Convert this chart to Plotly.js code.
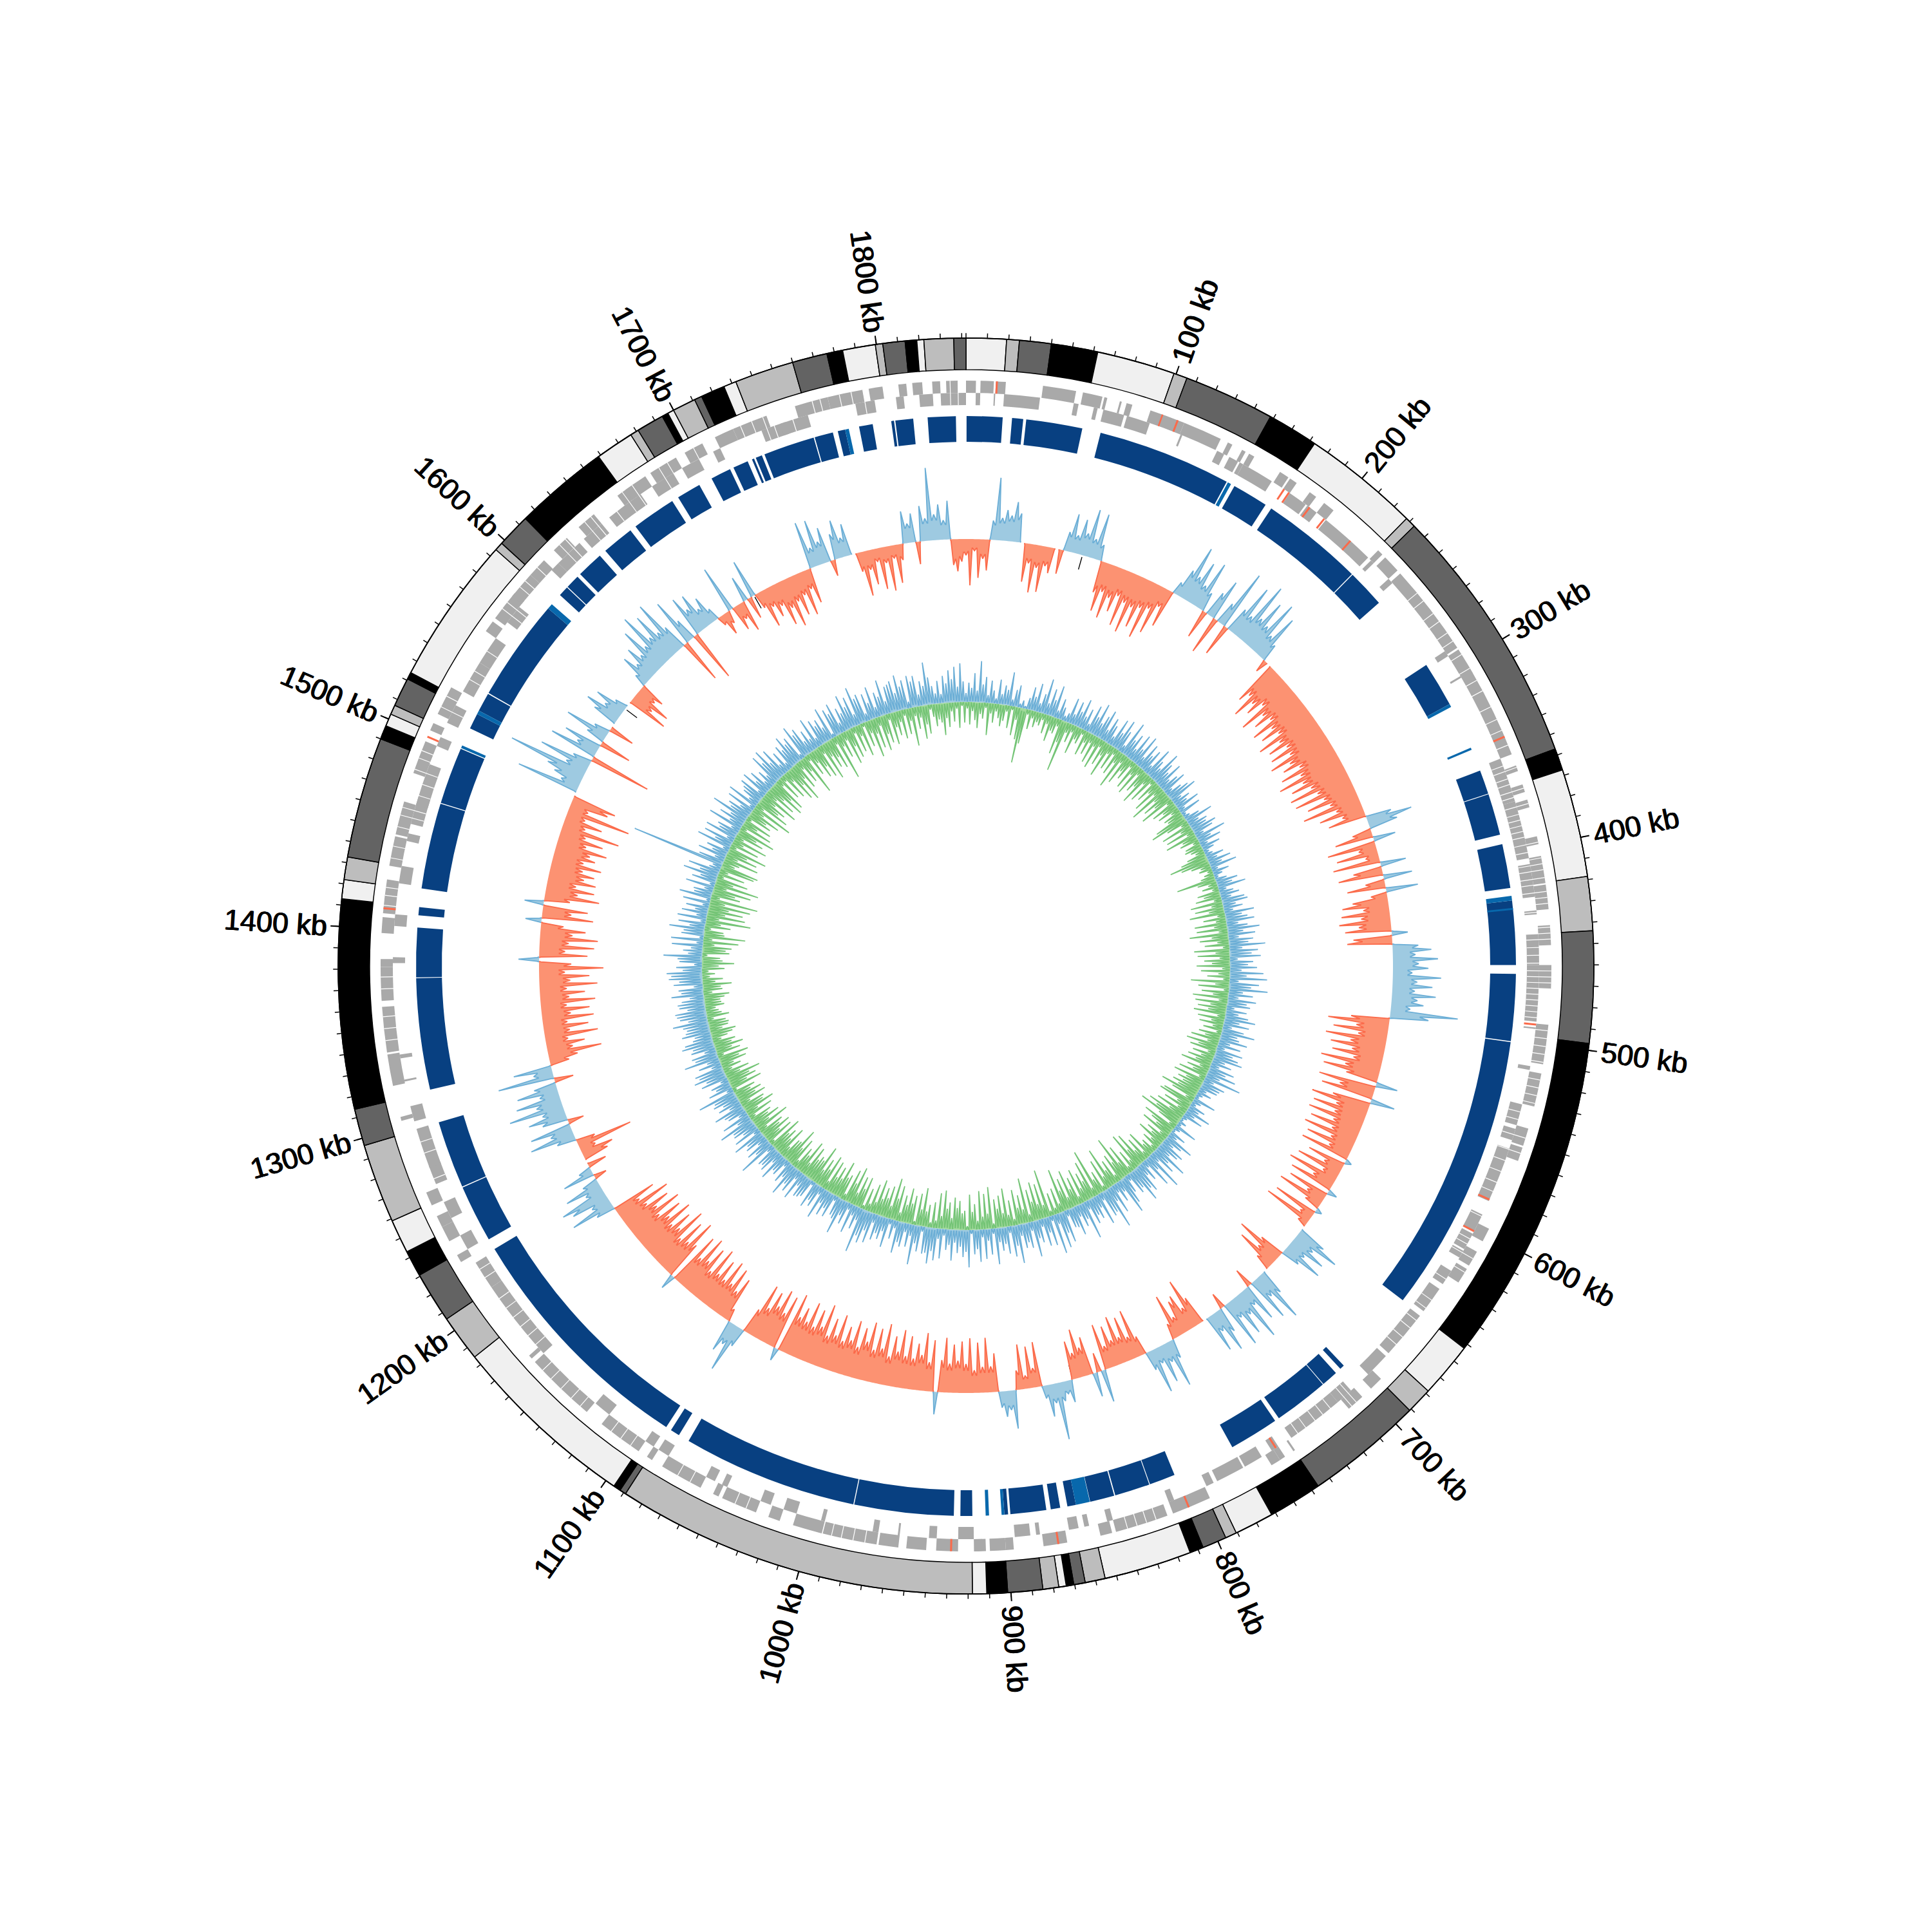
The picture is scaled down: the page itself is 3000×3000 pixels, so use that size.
<!DOCTYPE html>
<html><head><meta charset="utf-8">
<script src="https://cdn.plot.ly/plotly-3.0.1.min.js"></script>
<style>html,body{margin:0;padding:0;background:#fff}</style></head>
<body><div id="chart" style="width:3000px;height:3000px"></div>
<script>
// genome length in kb and tick marks
const genomeKb = 1842;
const majorTicksKb = [100,200,300,400,500,600,700,800,900,1000,1100,1200,1300,1400,1500,1600,1700,1800];
const minorTicksKb = [];
for (let k = 0; k < genomeKb; k += 10) minorTicksKb.push(k);

// outer contig ring: contig end positions (kb) and shade
const contigEnds = [19,25,40,62,99,105.4,148.4,172.5,228,233,357,367.4,418.5,444,496.8,652.4,678.5,691,746.5,772,790.6,796,807.5,814,855.5,865,870.4,874,877.5,885,901.5,911.3,918,1089,1092,1095.5,1184.5,1206.5,1230.6,1243,1259,1296.5,1314,1413,1422,1432.7,1490,1496.6,1502.5,1507,1520.7,1524,1594,1598,1614,1658.8,1677,1681,1694,1697,1700,1711,1714.6,1726,1732,1760,1776.5,1784,1799.5,1803,1813.5,1819,1822.3,1836.3,1842];
const contigShade = ["l","m","d","k","l","m","d","k","l","m","d","k","l","m","d","k","l","m","d","k","l","m","d","k","l","m","d","k","l","m","d","k","l","m","d","k","l","m","d","k","l","m","d","k","l","m","d","k","l","m","d","k","l","m","d","k","l","m","d","k","l","m","d","k","l","m","d","k","l","m","d","k","l","m","d"];

// gene ring: forward (outer row) and reverse (inner row) blocks, [start,end] in kb
const geneForward = [[0,5],[7.3,14],[15,20],[38.7,55.5],[59,69],[70,71.5],[78,79],[81.5,84.5],[94,112],[112,132],[136,138.5],[144,146],[148,151],[166,171],[172,176],[184,188],[193,199],[229,232],[234,243],[245,292],[293,352],[358,361],[368,372],[376,380],[395,399],[405,419],[419.6,432],[440,450],[460,472],[490,510],[514.7,531.6],[543,552],[553,560],[597,604],[610,618],[620,628],[690,697],[703,712],[746,747],[752,755],[755,760],[795,815],[818,845],[847,853],[870,882],[897,901],[901,909],[911,917],[925,936],[941,951],[955,965],[966,993.5],[994,1009],[1016,1022],[1028.6,1047],[1049,1052],[1059,1081],[1087,1090],[1095,1118],[1127.6,1163.7],[1166,1168],[1226,1230],[1238,1246],[1246,1252],[1258,1265],[1303,1305],[1321,1337],[1338,1361],[1364,1381],[1381,1385],[1398,1406],[1408,1425],[1432,1447],[1448,1465],[1480,1497],[1503,1507],[1512,1527],[1560,1566],[1568,1584],[1582,1596],[1596,1606],[1613,1622],[1630,1640],[1655,1672],[1660,1665],[1675,1690],[1695,1705],[1712,1722],[1722,1740],[1755,1772],[1772,1790],[1793,1800],[1808,1812],[1815,1820],[1825,1829],[1832,1838]];
const geneReverse = [[5,7.3],[14.3,15],[19.5,38],[55.5,58],[66,68],[71,82],[83.5,95.7],[112.5,113.5],[133,137],[140,145],[146,148],[148,165],[176,186],[187,193],[199,228],[230,232],[243,246],[290,293],[305,306],[352,375],[375,405],[408,425],[432,434],[444,460],[460,489],[492,493],[512,514],[532,543],[545,551],[555.6,584.4],[592,602],[603,612],[613,617],[625,633],[636,650],[653,678],[680,693],[705,714],[714,744],[752,756],[762,772],[773,788],[790,794],[812,815],[845,848],[857.5,860],[863,868],[883,885],[888,896],[917,925],[936,940],[955,956],[966,969],[994,996],[1009,1016],[1023,1028.5],[1047,1050],[1054,1059],[1081,1087],[1090,1095],[1118,1127],[1164,1207],[1207,1222],[1230,1238],[1248,1257],[1267,1277],[1276,1297],[1301,1309],[1322,1323],[1334,1336],[1383,1386],[1402,1408],[1424,1433],[1446,1450],[1455,1470],[1465,1487],[1497,1502],[1510,1520],[1528,1545],[1545,1560],[1570,1580],[1605,1610],[1610,1625],[1628,1640],[1645,1665],[1672,1685],[1690,1700],[1708,1712],[1735,1748],[1745,1760],[1785,1795],[1806,1810],[1818,1825],[1829,1842]];
const geneRedForward = [[15,16],[100,100.8],[108,109],[342,343],[806,807],[874,875],[928,929],[1410,1411],[1499,1500]];
const geneRedReverse = [[172,173],[175,176],[188,189],[197.5,198.5],[215,216],[490,491],[583,584],[601,602],[753,754]];
// white hairlines between neighbouring genes, kb
const geneSeparatorsKb = [258,263,271,276,283,288,296,304,311,317,326,333,339,347,356,359,363,366,370,373,378,382,385,388,391,394,398,402,406,409,412,416,419,423,426,429,433,436,441,444,447,451,455,459,463,466,469,472,475,478,481,484,487,493,497,501,505,509,518,522,526,530,536,540,548,556,562,568,574,579,587,590,593,606,609,614,622,630,643,648,656,661,667,672,707,710,719,724,729,735,740,824,829,834,839,972,978,984,989,1034,1040,1065,1072,1100,1106,1112,1132,1138,1145,1152,1158,1170,1176,1182,1188,1194,1200,1213,1218,1270,1284,1290,1344,1350,1356,1370,1376,1412,1417,1421,1436,1442,1452,1458,1462,1470,1476,1482,1488,1492,1516,1522,1535,1540,1552,1574,1578,1588,1592,1601,1617,1621,1634,1638,1650,1658,1664,1680,1685,1700,1726,1732,1738,1742,1752,1764,1768,1778,1784,1790,1834,1838];

// blue ring: dark blocks and lighter blocks, [start,end] in kb
const darkBlocks = [[0.3,19.6],[24.6,30.6],[32.2,62.5],[72.5,144.8],[149.5,168.9],[172.5,228],[228.5,249],[290.7,315],[354,367],[367.4,389.8],[395,418.7],[425.5,460],[464.7,500.7],[501.2,652],[699,701.5],[704.7,713.6],[714,743.6],[746,772.8],[807,821],[821.4,840.4],[841,854.2],[862,866.6],[870.5,875.6],[878,897.3],[898.5,900.5],[917.6,924],[927.5,981],[981.5,1076],[1082,1087],[1090,1223],[1229,1260],[1260.5,1297],[1315,1375],[1375.4,1402],[1408.6,1413],[1423,1469.3],[1469.8,1500.5],[1512.5,1521],[1523,1533.2],[1533.8,1589],[1598.5,1604],[1604.5,1612],[1614,1628.4],[1632.3,1649.6],[1653,1676.8],[1680.5,1693.6],[1701,1712],[1714,1722.3],[1724.8,1726],[1727,1730.5],[1732,1759.7],[1760.3,1770.3],[1773,1777],[1784.6,1792],[1802,1803.5],[1804.2,1813.8],[1821.5,1836.6]];
const lightBlocks = [[145.5,147.4],[315,316.7],[340.8,342],[423,425.5],[429.5,430.5],[854.4,862],[900.5,902],[908.7,910.5],[1501,1502.5],[1521,1523],[1589,1592],[1777,1779]];
// short black marks on the outer track, kb
const blackMarksKb = [81,334.7,847,1079.6,1445,1454.6,1571,1689.6,1774];

// sampling step of the skew tracks, kb
const trackStepKb = 3;
// outer track (blue outward, orange inward): one value per 3 kb
const outerTrack = [
-25,-72,-18,-60,-30,-48,30,97,35,48,
40,62,45,0,-60,-30,-75,-35,-72,-30,
-40,0,-38,30,60,28,55,35,75,30,
72,25,-50,-78,-45,-85,-50,-70,-42,-88,
-48,-94,-50,-80,-45,-92,-40,-78,-30,-60,
20,45,88,42,70,35,78,30,-45,40,
65,-60,35,95,-50,40,85,38,100,45,
80,42,90,35,75,28,-20,0,-70,-55,
-90,-60,-75,-50,-95,-60,-80,-55,-92,-62,
-85,-58,-98,-65,-88,-60,-92,-62,-100,-70,
-85,-60,-95,-65,-105,-68,-90,-60,-98,-55,
-95,-50,-80,-45,-92,-40,-70,-35,-60,40,
71,45,-30,-60,35,-76,-28,-65,-20,-74,
40,-45,-70,45,-30,-60,50,-25,-55,-72,
-40,-75,-45,-80,-50,-72,25,-60,-70,40,
60,35,70,40,55,30,75,38,62,35,
68,40,50,30,105,60,-60,-95,-50,-85,
-45,-95,-55,-85,-50,-80,-45,-95,-55,-88,
-50,34,-90,-55,-82,38,-60,-92,-50,-85,
-48,-88,-45,-80,-42,-85,-38,-75,-35,-78,
10,-60,-30,-72,-25,-80,-35,-70,15,-65,
-30,-75,-25,10,-70,-20,-78,-15,0,45,
74,35,60,30,65,30,-40,-77,-35,-65,
-25,0,40,83,35,70,-30,60,28,83,
35,65,30,75,-25,40,69,30,60,0,
-45,-79,-35,-60,-54,-30,-70,-25,30,74,
30,60,25,70,30,-30,-76,-35,-70,-40,
-76,-40,-65,-35,-72,51,-30,38,-60,-45,
-76,-40,-60,35,20,30,89,30,50,20,
-70,-30,-65,-20,-70,-30,60,30,40,25,
-60,-40,-85,-40,-78,-35,-85,-45,-80,-50,
-75,-45,-85,-50,35,-80,-45,-90,-55,-72,
-48,-82,-50,-90,-55,-78,-45,-95,-55,-85,
-50,-92,-60,-80,-48,-88,-55,-75,-50,-90,
-55,-80,-50,-98,-60,-85,-55,-92,-58,-78,
-60,-95,20,-85,-55,-90,-60,-80,-50,-85,
-40,30,76,35,50,-20,-70,-45,-80,-50,
-85,-48,-78,-50,-90,-45,-82,-55,-92,-50,
-85,24,-60,-98,-55,-88,-50,-100,-60,-85,
-55,-95,-60,-85,-50,-92,-55,-80,-45,-88,
-40,-70,30,69,30,60,74,28,58,25,
-20,50,20,-30,0,-40,-51,-25,-88,-30,
30,71,35,65,-25,40,60,35,86,40,
70,30,64,35,-30,88,30,60,-30,-45,
-84,-40,-60,-35,-83,-40,-70,-38,-80,-45,
-75,-40,-85,-45,-70,-42,-90,-48,-78,-40,
-100,-50,32,-75,-40,-85,-45,-90,-50,-70,
-35,25,-80,-45,-70,30,-40,-85,-50,-75,
-45,-75,-55,-70,-50,-78,-48,-65,-55,-80,
-45,-70,-40,-92,-35,-60,-30,-100,-30,-60,
-70,0,99,30,45,60,126,35,82,30,
-97,76,35,60,-50,30,70,25,-40,0,
40,58,30,50,20,0,-64,-35,-60,-30,
-40,20,50,30,55,35,76,40,92,45,
80,42,90,40,-70,75,35,-81,65,40,
60,30,45,20,-15,-35,-20,74,-40,-25,
-49,40,-35,60,-25,-60,-30,-50,-35,-70,
-45,-78,-40,-65,-35,-70,-30,-55,74,30,
72,35,55,-25,40,60,30,50,0,-30,
-70,-30,-55,-20,-65,-25,-70,-20,-60,-25,
50,30,45,-35,55,35,113,40,55,30,
60,-40,-50,-35];
// inner track, blue spikes outward: one value per 3 kb
const innerBlue = [
14,30,22,45,18,64,28,40,12,35,
20,8,38,16,30,24,52,10,26,34,
6,12,4,18,36,22,44,14,30,55,
18,42,26,50,12,32,20,8,14,40,
16,38,24,46,20,34,12,44,28,52,
22,36,48,18,40,30,14,46,26,50,
34,12,55,28,40,18,46,24,50,16,
42,26,38,14,48,30,20,52,36,24,
44,18,30,40,12,26,36,46,16,28,
20,38,10,34,6,10,24,44,18,30,
26,40,32,14,48,22,36,12,30,18,
8,12,28,16,36,20,42,10,26,14,
6,18,34,24,44,12,22,30,16,36,
40,20,30,14,46,26,34,44,18,32,
50,24,42,16,38,30,56,20,44,34,
48,12,36,28,42,18,52,26,58,14,
46,34,60,22,38,16,44,30,36,12,
32,20,36,48,24,40,14,34,52,26,
30,44,18,36,12,42,28,38,46,20,
32,14,40,28,46,22,58,16,36,30,
28,12,22,10,6,36,14,8,26,18,
40,16,32,8,4,12,6,36,10,4,
26,14,46,30,18,40,34,22,56,28,
42,16,62,24,50,12,32,20,46,38,
56,30,36,10,28,44,58,18,32,14,
46,24,66,38,42,12,50,20,36,28,
40,14,60,26,36,18,46,32,30,10,
50,34,56,16,62,8,46,24,44,12,
36,28,56,14,40,30,38,18,60,32,
48,10,42,26,36,22,56,8,40,18,
46,12,50,30,38,6,58,34,42,26,
36,20,48,24,32,10,46,16,50,36,
56,40,42,8,40,28,62,18,36,14,
38,32,50,12,30,8,46,22,36,28,
40,14,48,30,52,42,70,20,36,16,
46,10,36,24,56,34,30,8,38,26,
40,22,50,12,36,28,42,6,30,34,
36,20,46,14,40,30,52,24,36,10,
30,26,45,18,38,32,35,12,60,28,
40,16,35,30,50,10,42,24,38,36,
56,22,45,14,30,34,48,20,36,26,
40,36,60,10,38,24,30,12,42,32,
50,40,45,16,35,20,55,36,40,18,
38,34,50,44,30,26,45,38,35,40,
55,30,42,46,48,28,40,42,35,22,
50,34,38,14,45,36,52,48,55,30,
40,12,35,38,60,22,30,18,48,10,
50,6,35,32,55,24,42,8,45,16,
40,20,35,10,42,6,50,28,30,14,
45,8,38,26,55,30,50,18,14,147,
40,16,45,24,35,10,55,28,48,12,
50,30,35,14,55,22,42,26,60,32,
38,20,45,8,50,16,30,34,42,12,
45,24,38,14,30,18,52,36,55,28,
48,16,35,12,40,30,50,34,42,8,
55,38,45,20,35,18,50,14,42,30,
38,22,52,6,45,36,50,16,38,28,
55,34,48,18,60,40,45,12,42,26,
50,16,38,30,55,20,42,44,48,28,
55,36,45,10,50,40,48,18,38,30,
66,42,28,16,35,14,42,30,50,36,
55,24,60,32];
// inner track, green spikes inward: one depth per 3 kb
const innerGreen = [
10,35,14,28,40,18,25,8,50,16,
30,12,22,34,25,10,35,6,45,20,
50,86,55,8,30,12,25,16,20,10,
30,14,40,22,25,12,55,35,80,16,
30,12,45,20,25,8,40,18,35,14,
45,16,50,12,40,22,55,14,38,10,
42,20,60,14,48,24,35,10,45,18,
50,12,40,28,55,16,45,8,38,20,
50,16,62,22,45,28,55,10,40,24,
35,14,30,26,50,60,35,12,48,18,
45,12,50,24,30,10,25,28,20,14,
30,42,62,45,30,16,20,8,15,22,
62,30,14,25,10,35,26,40,12,50,
18,45,24,55,12,35,16,50,20,48,
14,60,26,45,18,38,10,55,22,50,
16,40,28,52,12,45,18,35,10,60,
22,48,8,42,24,55,14,50,26,45,
28,50,12,42,20,38,16,30,8,35,
24,45,18,50,30,42,12,35,20,40,
26,48,16,35,24,45,10,50,28,40,
30,45,34,60,40,14,50,55,22,42,
16,50,26,60,45,70,35,12,55,40,
28,50,14,35,24,45,18,30,10,25,
20,45,12,40,22,55,30,60,16,35,
10,50,24,70,30,45,12,40,26,65,
20,50,8,35,24,75,14,60,30,45,
22,55,12,45,28,60,18,50,32,68,
14,40,10,35,8,75,20,55,24,60,
30,50,12,70,22,45,26,55,10,40,
18,60,22,50,30,45,8,65,24,55,
20,60,14,40,28,55,6,30,26,45,
34,50,18,42,32,60,20,55,12,40,
8,35,24,60,26,50,6,45,32,55,
28,42,14,55,34,65,20,50,30,45,
26,55,18,45,12,35,6,50,30,48,
20,60,32,52,10,40,34,58,28,45,
26,50,14,55,30,45,24,62,36,40,
32,50,20,55,28,38,12,48,30,60,
36,35,18,50,28,42,32,55,8,45,
26,48,32,40,14,55,24,45,28,35,
10,42,20,50,34,38,16,45,30,42,
26,35,6,50,28,45,36,55,24,40,
14,30,20,42,32,48,10,38,26,45,
28,35,14,25,34,40,20,30,32,28,
10,35,24,20,16,30,26,25,32,40,
14,30,28,45,20,32,12,20,10,35,
26,50,32,28,8,42,36,45,18,55,
14,65,32,30,10,40,24,70,20,60,
28,55,32,65,24,75,14,45,36,60,
20,70,28,50,10,42,14,55,60,20,
26,55,20,50,32,62,10,45,18,55,
14,45,32,60,10,50,24,45,8,40,
30,50,20,66,14,55,36,45,24,60,
20,50,28,60,36,55,12,40,10,45,
18,55,32,62,26,45,14,40,24,65,
10,38,20,48,32,52,14,60,24,45,
30,50,12,72,20,40,14,55,28,48,
10,42,18,52,6,40,20,60,24,48,
14,55,30,45,10,50,24,38,18,45,
10,40,20,60,14,35,18,52,30,45,
8,20,35,25,30,50,24,38,14,30,
10,40,6,32];

// styling
const shadeColor = {l:"#f0f0f0", m:"#bdbdbd", d:"#636363", k:"#000000"};
const ringOuter = 975, ringInner = 926;
const fwdBase = 890, fwdTop = 909, revBase = 871, revTop = 890;
const blueBase = 814, blueTop = 854;
const outerBase = 663, innerBase = 410;
const fontFam = '"Liberation Sans",sans-serif';

const deg = kb => kb * 360 / genomeKb;
function blocks(list, base, top, color) {
  return {type:"barpolar", base:list.map(()=>base), r:list.map(()=>top-base),
    theta:list.map(b=>deg((b[0]+b[1])/2)), width:list.map(b=>deg(b[1]-b[0])),
    marker:{color:color, line:{width:0}}, hoverinfo:"skip", showlegend:false};
}
// mags: non-negative heights; each sample drawn as a narrow spike standing on a shoulder
function spikes(mags, sign, base, offsetKb, halfKb, shoulder, core, fill, line, width) {
  const n = mags.length, th = [], v = [];
  const sh = (a,b) => a===0 ? 0 : (b>0 ? Math.max(core,shoulder*Math.min(a,b)) : core);
  mags.forEach((x,i)=>{
    const k = offsetKb + i*trackStepKb;
    th.push(deg(k-halfKb),deg(k),deg(k+halfKb));
    v.push(sh(x,mags[(i+n-1)%n]),x,sh(x,mags[(i+1)%n]));
  });
  th.push(th[0]+360); v.push(v[0]);
  const rLine = v.map((x,i)=> (x>v[i-1] || x>v[i+1] || v[i-1]>x || v[i+1]>x) ? base+sign*x : null);
  return [
    {type:"scatterpolar",mode:"lines",r:v.map(x=>base+sign*x).concat(v.map(()=>base).reverse()),
     theta:th.concat(th.slice().reverse()),fill:"toself",fillcolor:fill,line:{width:0,color:fill,simplify:false},
     hoverinfo:"skip",showlegend:false},
    {type:"scatterpolar",mode:"lines",r:rLine,theta:th,connectgaps:false,
     line:{width:width,color:line,simplify:false},hoverinfo:"skip",showlegend:false}
  ];
}

const traces = [];
let prev = 0; const cTheta=[],cWidth=[],cColor=[];
contigEnds.forEach((e,i)=>{cTheta.push(deg((prev+e)/2));cWidth.push(deg(e-prev));cColor.push(shadeColor[contigShade[i]]);prev=e;});
traces.push({type:"barpolar", base:cTheta.map(()=>ringInner), r:cTheta.map(()=>ringOuter-ringInner), theta:cTheta, width:cWidth,
  marker:{color:cColor,line:{color:"#000",width:1.5}}, hoverinfo:"skip", showlegend:false});
traces.push(blocks(geneForward,fwdBase,fwdTop,"#a9a9a9"));
traces.push(blocks(geneReverse,revBase,revTop,"#a9a9a9"));
traces.push(blocks(geneRedForward,fwdBase,fwdTop,"#fb6a4a"));
traces.push(blocks(geneRedReverse,revBase,revTop,"#fb6a4a"));
traces.push(blocks(geneSeparatorsKb.map(k=>[k-0.2,k+0.2]),revBase,fwdTop,"#ffffff"));
traces.push(blocks(darkBlocks,blueBase,blueTop,"#084081"));
traces.push(blocks(lightBlocks,blueBase,blueTop,"#0868ac"));
spikes(outerTrack.map(x=>Math.max(x,0)),1,outerBase,0,1.3,0.78,3,"#9ecae1","#6baed6",1.8).forEach(t=>traces.push(t));
spikes(outerTrack.map(x=>Math.max(-x,0)),-1,outerBase,0,1.3,0.78,3,"#fc9272","#fb6a4a",1.8).forEach(t=>traces.push(t));
spikes(innerGreen,-1,innerBase,1.5,1.2,0.1,1,"#a1d99b","#74c476",1.7).forEach(t=>traces.push(t));
spikes(innerBlue,1,innerBase,0,1.2,0.1,1,"#9ecae1","#6baed6",1.7).forEach(t=>traces.push(t));
traces.push({type:"barpolar", base:blackMarksKb.map(()=>640), r:blackMarksKb.map(()=>20), theta:blackMarksKb.map(deg),
  width:blackMarksKb.map(()=>deg(0.6)), marker:{color:"#000",line:{width:0}}, hoverinfo:"skip", showlegend:false});
// carrier of the second (minor tick) polar axes
traces.push({type:"scatterpolar", subplot:"polar2", mode:"markers", r:[ringOuter], theta:[0], marker:{size:1,opacity:0}, hoverinfo:"skip", showlegend:false});

const dom = [0.5-ringOuter/3000, 0.5+ringOuter/3000];
function polarLayout(tickvals, len, width) {
  return {domain:{x:dom,y:dom}, bgcolor:"rgba(0,0,0,0)", barmode:"overlay",
    radialaxis:{range:[0,ringOuter],visible:false,showgrid:false},
    angularaxis:{rotation:90,direction:"clockwise",thetaunit:"degrees",showgrid:false,showline:true,
      linecolor:"#000",linewidth:1.5,ticks:"outside",ticklen:len,tickwidth:width,tickcolor:"#000",
      tickmode:"array",tickvals:tickvals.map(deg),ticktext:tickvals.map(()=>""),showticklabels:false}};
}
const annotations = majorTicksKb.map(k=>{
  const a = deg(k), rad = a*Math.PI/180, text = k+" kb";
  const rr = 994 + text.length*23/2;
  return {xref:"paper",yref:"paper",x:0.5+rr*Math.sin(rad)/3000,y:0.5+rr*Math.cos(rad)/3000,
    xanchor:"center",yanchor:"middle",text:text,showarrow:false,
    textangle:a<=180?a-90:a-270,font:{family:fontFam,size:45,color:"#000",shadow:"0.7px 0 0 #000, -0.7px 0 0 #000"}};
});
Plotly.newPlot("chart",traces,{width:3000,height:3000,margin:{l:0,r:0,t:0,b:0},paper_bgcolor:"#fff",showlegend:false,
  polar:polarLayout(majorTicksKb,13,2), polar2:polarLayout(minorTicksKb,7,1.5), annotations:annotations},{staticPlot:true});
</script></body></html>
